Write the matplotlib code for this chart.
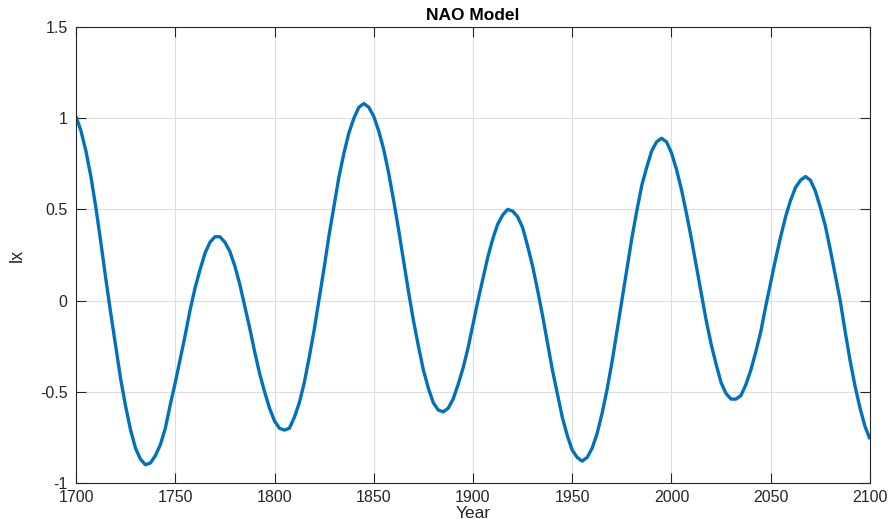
import numpy as np
import matplotlib
matplotlib.use("Agg")
import matplotlib.pyplot as plt

plt.rcParams['font.family'] = ['Liberation Sans', 'DejaVu Sans']

# model output, one value every 2.5 years from 1700 to 2100
years = np.arange(1700, 2100.1, 2.5)
nao = [
    1.01, 0.93, 0.82, 0.68, 0.51, 0.32, 0.12, -0.07, -0.25, -0.43,
    -0.58, -0.71, -0.81, -0.87, -0.90, -0.89, -0.85, -0.79, -0.70, -0.57,
    -0.45, -0.32, -0.19, -0.05, 0.07, 0.17, 0.26, 0.32, 0.35, 0.35,
    0.32, 0.27, 0.19, 0.09, -0.03, -0.15, -0.28, -0.40, -0.50, -0.59,
    -0.66, -0.70, -0.71, -0.70, -0.64, -0.56, -0.45, -0.31, -0.16, 0.01,
    0.18, 0.36, 0.52, 0.68, 0.81, 0.92, 1.00, 1.06, 1.08, 1.06,
    1.01, 0.93, 0.83, 0.70, 0.55, 0.39, 0.22, 0.05, -0.11, -0.25,
    -0.38, -0.48, -0.56, -0.60, -0.61, -0.59, -0.54, -0.46, -0.37, -0.26,
    -0.13, 0.00, 0.12, 0.24, 0.34, 0.42, 0.47, 0.50, 0.49, 0.46,
    0.40, 0.30, 0.19, 0.06, -0.08, -0.23, -0.38, -0.51, -0.64, -0.74,
    -0.82, -0.86, -0.88, -0.86, -0.81, -0.73, -0.62, -0.49, -0.34, -0.17,
    0.00, 0.17, 0.34, 0.49, 0.63, 0.73, 0.82, 0.87, 0.89, 0.87,
    0.81, 0.72, 0.61, 0.48, 0.34, 0.19, 0.04, -0.11, -0.24, -0.35,
    -0.45, -0.51, -0.54, -0.54, -0.52, -0.46, -0.38, -0.28, -0.17, -0.03,
    0.10, 0.23, 0.35, 0.46, 0.55, 0.62, 0.66, 0.68, 0.66, 0.60,
    0.51, 0.41, 0.28, 0.14, 0.00, -0.17, -0.33, -0.47, -0.59, -0.69,
    -0.76,
]

xticks = [1700, 1750, 1800, 1850, 1900, 1950, 2000, 2050, 2100]
yticks = [-1, -0.5, 0, 0.5, 1, 1.5]
yticklabels = ['-1', '-0.5', '0', '0.5', '1', '1.5']

axcol = '#262626'

fig = plt.figure(figsize=(8.89, 5.19), dpi=100)
ax = fig.add_axes([0.0855, 0.0694, 0.8931, 0.8786])

ax.plot(years, nao, color='#0072BD', lw=2.4,
        solid_capstyle='butt', solid_joinstyle='round')

ax.set_xlim(1700, 2100)
ax.set_ylim(-1, 1.5)
ax.set_xticks(xticks)
ax.set_yticks(yticks)
ax.set_yticklabels(yticklabels)

ax.grid(True, color='#dedede', lw=0.8)
ax.set_axisbelow(True)
ax.tick_params(direction='in', length=7, width=0.8, colors=axcol,
               labelsize=11.5, top=True, right=True)
ax.tick_params(axis='y', pad=6)
ax.tick_params(axis='x', pad=5)
for s in ax.spines.values():
    s.set_color(axcol)
    s.set_linewidth(0.8)

ax.set_title('NAO Model', fontsize=12.5, fontweight='bold', pad=5)
ax.set_xlabel('Year', fontsize=12.5, color=axcol, labelpad=0.5)
ax.set_ylabel('lx', fontsize=13, color=axcol, labelpad=10)

fig.savefig('out.png', dpi=100)
